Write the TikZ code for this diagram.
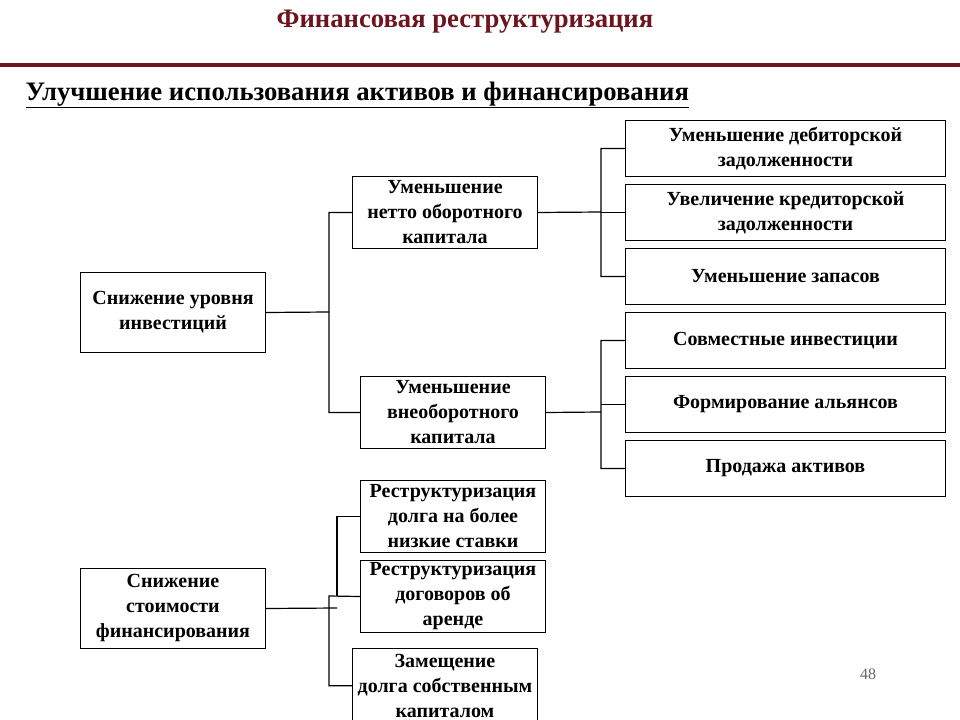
\documentclass[tikz,border=0pt]{standalone}
\usepackage{fontspec}
\setmainfont{Liberation Serif}
\definecolor{darkred}{RGB}{110,20,30}
\tikzset{every picture/.style={line width=0.75pt}}
\tikzset{
  box/.style={draw, anchor=north west, inner sep=0pt, align=center,
    font=\bfseries\fontsize{15}{18.75}\selectfont},
  link/.style={draw, line width=0.9pt}
}

\begin{document}
\begin{tikzpicture}[x=0.75pt,y=0.75pt,yscale=-1,xscale=1]
	\useasboundingbox (0,0) rectangle (960,720);
	
	% Title and rule
	\node (title) at (465,22) [text=darkred, font=\bfseries\fontsize{20}{22}\selectfont] {Финансовая реструктуризация};
	\draw [color=darkred, line width=2.5pt] (0,65) -- (960,65);
	\node (sub) at (25,95) [anchor=west, inner sep=0pt, font=\bfseries\fontsize{20}{22}\selectfont] {\underline{Улучшение использования активов и финансирования}};
	
	% Left column
	\node (inv) at (80,272) [box, minimum width=138.75pt, minimum height=60pt] {Снижение уровня\\инвестиций};
	\node (fin) at (80,568) [box, minimum width=138.75pt, minimum height=60pt] {Снижение\\стоимости\\финансирования};
	
	% Middle column
	\node (net) at (352,176) [box, minimum width=138.75pt, minimum height=54pt] {Уменьшение\\нетто оборотного\\капитала};
	\node (fix) at (360,376) [box, minimum width=138.75pt, minimum height=54pt] {Уменьшение\\внеоборотного\\капитала};
	\node (debt) at (360,480) [box, minimum width=138.75pt, minimum height=54pt] {Реструктуризация\\долга на более\\низкие ставки};
	\node (lease) at (360,560) [box, minimum width=138.75pt, minimum height=54pt] {Реструктуризация\\договоров об\\аренде};
	\node (equity) at (352,648) [box, minimum width=138.75pt, minimum height=56pt] {Замещение\\долга собственным\\капиталом};
	
	% Right column
	\node (recv) at (625,120) [box, minimum width=240pt, minimum height=42pt] {Уменьшение дебиторской\\задолженности};
	\node (pay) at (625,184) [box, minimum width=240pt, minimum height=42pt] {Увеличение кредиторской\\задолженности};
	\node (stock) at (625,248) [box, minimum width=240pt, minimum height=42pt] {Уменьшение запасов};
	\node (joint) at (625,312) [box, minimum width=240pt, minimum height=42pt] {Совместные инвестиции};
	\node (ally) at (625,376) [box, minimum width=240pt, minimum height=42pt] {Формирование альянсов};
	\node (sale) at (625,440) [box, minimum width=240pt, minimum height=42pt] {Продажа активов};
	
	% Trunks
	\coordinate (t1) at (329,312);
	\coordinate (t2) at (601,212);
	\coordinate (t3) at (601,412);
	\coordinate (t4) at (337,608);
	\coordinate (t5) at (329,596);
	
	% Connectors
	\draw [link] (inv.east) -- (t1) (net.west) -| (t1) |- (fix.west);
	\draw [link] (net.east) -- (t2) (recv.west) -| (t2) |- (stock.west);
	\draw [link] (pay.west) -- (pay.west -| t2);
	\draw [link] (fix.east) -- (t3) (joint.west) -| (t3) |- (sale.west);
	\draw [link] (ally.west) -- (ally.west -| t3);
	\draw [link] (fin.east) -- (t4);
	\draw [link] (debt.west) -| (t4 |- t5);
	\draw [link] (lease.west) -- (t5) |- (equity.west);
	
	% Page number
	\node (page) at (868,674) [text=gray!80!black, font=\fontsize{12}{13}\selectfont] {48};
	
\end{tikzpicture}
\end{document}
